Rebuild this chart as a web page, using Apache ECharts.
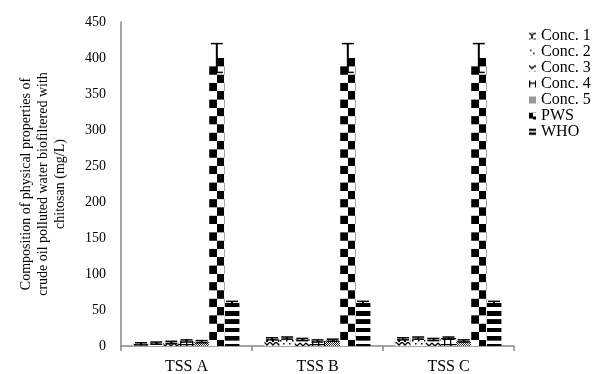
<!DOCTYPE html>
<html><head><meta charset="utf-8">
<script src="https://cdn.jsdelivr.net/npm/echarts@6/dist/echarts.min.js"></script>
<style>html,body{margin:0;padding:0;background:#fff}#c{width:598px;height:374px}</style>
</head><body><div id="c"></div>
<script>
const categories = ['TSS A', 'TSS B', 'TSS C'];
const seriesNames = ['Conc. 1', 'Conc. 2', 'Conc. 3', 'Conc. 4', 'Conc. 5', 'PWS', 'WHO'];
const conc1 = [3, 10, 10];
const conc2 = [4, 11, 11];
const conc3 = [5, 9, 9];
const conc4 = [7, 7, 11];
const conc5 = [6, 8, 7];
const pws = [400, 400, 400];
const who = [60, 60, 60];
const errConc = [1.5, 1.5, 1.5];
const errPws = [20, 20, 20];
const errWho = [2, 2, 2];
const yTicks = [0, 50, 100, 150, 200, 250, 300, 350, 400, 450];

const values = [conc1, conc2, conc3, conc4, conc5, pws, who];
const errors = [errConc, errConc, errConc, errConc, errConc, errPws, errWho];

function pat(w, h, draw, extra) {
  const c = document.createElement('canvas');
  c.width = w; c.height = h;
  const g = c.getContext('2d');
  g.fillStyle = '#fff'; g.fillRect(0, 0, w, h);
  g.fillStyle = '#000'; g.strokeStyle = '#000';
  draw(g);
  return Object.assign({ image: c, repeat: 'repeat' }, extra || {});
}
const basePatterns = [
  pat(6, 6, g => { g.lineWidth = 1.3; g.beginPath(); g.moveTo(0, 0); g.lineTo(3, 3); g.lineTo(6, 0); g.stroke(); g.fillRect(2, 4, 2, 2); }),
  pat(6, 6, g => { g.fillRect(1, 1, 1.5, 1.5); g.fillRect(4, 4, 1.5, 1.5); }),
  pat(6, 6, g => { g.lineWidth = 1.3; g.beginPath(); g.moveTo(0, 1); g.lineTo(3, 4); g.lineTo(6, 1); g.stroke(); }),
  pat(6, 6, g => { g.fillRect(0, 0, 1.3, 6); g.fillRect(0, 2, 6, 1.3); }),
  pat(2, 2, g => { g.fillStyle = '#333'; g.fillRect(0, 0, 1, 1); g.fillRect(1, 1, 1, 1); }),
  pat(8, 8, g => { g.fillRect(0, 0, 4, 4); g.fillRect(4, 4, 4, 4); g.fillRect(0, 4, 4, 2); }),
  pat(8, 4, g => { g.fillRect(0, 0, 8, 2.5); })
];

const font = 'Liberation Serif';
const gapRatio = 0.19;
const n = seriesNames.length;

function buildSeries(itemColors) {
  const s = [];
  seriesNames.forEach((name, i) => {
    s.push({
      name: name, type: 'bar',
      data: values[i].map((v, k) => itemColors && itemColors[i] ? { value: v, itemStyle: { color: itemColors[i][k] } } : v),
      barGap: '0%', barCategoryGap: (gapRatio * 100) + '%',
      itemStyle: { color: basePatterns[i] },
      emphasis: { disabled: true }, animation: false
    });
  });
  seriesNames.forEach((name, i) => {
    s.push({
      type: 'custom', name: name + ' err', silent: true, animation: false, z: 5,
      data: values[i].map((v, k) => [k, v, errors[i][k]]),
      renderItem: function (params, api) {
        const k = api.value(0), v = api.value(1), e = api.value(2);
        const band = api.size([1, 0])[0];
        const bw = band * (1 - gapRatio) / n;
        const cx = api.coord([k, 0])[0] - band * (1 - gapRatio) / 2 + bw * (i + 0.5);
        const top = api.coord([k, v + e])[1];
        const bot = api.coord([k, v - e])[1];
        const cap = 6;
        return { type: 'group', children: [
          { type: 'line', shape: { x1: cx, y1: top, x2: cx, y2: bot }, style: { stroke: '#000', lineWidth: 2 } },
          { type: 'line', shape: { x1: cx - cap, y1: top, x2: cx + cap, y2: top }, style: { stroke: '#000', lineWidth: 1.5 } },
          { type: 'line', shape: { x1: cx - cap, y1: bot, x2: cx + cap, y2: bot }, style: { stroke: '#000', lineWidth: 1.5 } }
        ]};
      }
    });
  });
  return s;
}

const chart = echarts.init(document.getElementById('c'), null, { renderer: 'canvas' });
chart.setOption({
  backgroundColor: '#fff',
  animation: false,
  textStyle: { fontFamily: font },
  grid: { left: 121, right: 84, top: 22, bottom: 28, containLabel: false, outerBoundsMode: 'none' },
  legend: {
    data: seriesNames, orient: 'vertical', left: 524, top: 23,
    itemWidth: 7, itemHeight: 7, itemGap: 0, icon: 'rect', selectedMode: false,
    textStyle: { fontFamily: font, fontSize: 16, color: '#000', lineHeight: 14 }
  },
  xAxis: {
    type: 'category', data: categories,
    axisLine: { lineStyle: { color: '#888', width: 1.5 } },
    axisTick: { show: true, length: 5, lineStyle: { color: '#888', width: 1.5 } },
    axisLabel: { fontFamily: font, fontSize: 16, color: '#000', margin: 13 }
  },
  yAxis: {
    type: 'value', min: 0, max: 450, interval: 50,
    name: 'Composition of physical properties of\ncrude oil polluted water biofiltered with\nchitosan (mg/L)',
    nameLocation: 'middle', nameRotate: 90, nameGap: 52,
    nameTextStyle: { fontFamily: font, fontSize: 14, color: '#000', lineHeight: 17 },
    axisLine: { show: true, lineStyle: { color: '#888', width: 1.5 } },
    axisTick: { show: false },
    splitLine: { show: false },
    axisLabel: { fontFamily: font, fontSize: 14, color: '#000', margin: 15,
      formatter: v => yTicks.includes(v) ? String(v) : '' }
  },
  series: buildSeries(null)
});

// Align PWS checkerboard and WHO stripes with each bar using the axes' own pixel conversion
const c0 = chart.convertToPixel({ xAxisIndex: 0 }, 0);
const c1 = chart.convertToPixel({ xAxisIndex: 0 }, 1);
const band = c1 - c0;
const bw = band * (1 - gapRatio) / n;
function barLeft(k, i) {
  return chart.convertToPixel({ xAxisIndex: 0 }, k) - band * (1 - gapRatio) / 2 + bw * i;
}
const sqH = 8.3;
const pwsColors = values[5].map((v, k) => {
  const top = chart.convertToPixel({ yAxisIndex: 0 }, v);
  return pat(Math.round(bw * 4), Math.round(sqH * 4), g => {
    const W = bw * 4, H = sqH * 4;
    g.fillRect(W / 2, 0, W / 2, H / 2); g.fillRect(0, H / 2, W / 2, H / 2);
  }, { x: barLeft(k, 5), y: top, scaleX: bw / Math.round(bw * 4), scaleY: (2 * sqH) / Math.round(sqH * 4) });
});
const whoColors = values[6].map((v, k) => {
  const top = chart.convertToPixel({ yAxisIndex: 0 }, v);
  return pat(64, 33, g => { g.fillRect(4, 0, 60, 18); }, { x: barLeft(k, 6), y: top, scaleX: bw / 64, scaleY: 8.3 / 33 });
});
const colors = [];
colors[5] = pwsColors; colors[6] = whoColors;
chart.setOption({ series: buildSeries(colors) });
</script></body></html>
